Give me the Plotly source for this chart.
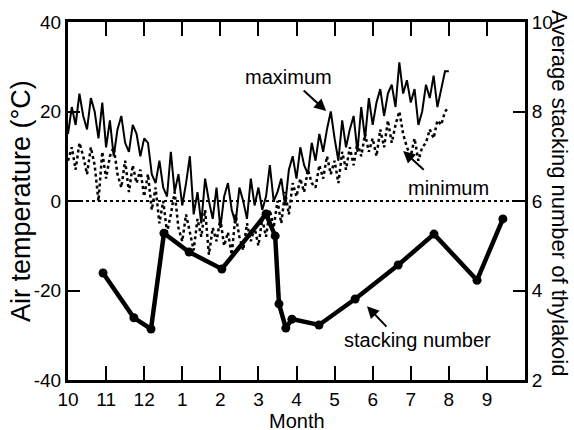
import plotly.graph_objects as go

# x positions in months since Oct 1 (0 = Oct, 12 = next Oct)
temp_x = [round(i * 0.1, 2) for i in range(101)]

max_temp = [15, 21, 17, 24, 19, 16, 23, 20, 14, 22,
            12, 18, 10, 16, 19, 13, 11, 17, 15, 10,
            14, 13, 6, 4, 9, 3, 1, 11, 2, 6,
            -1, 4, 10, -3, 2, -5, 5, 0, -4, 3,
            -6, 1, 4, -2, -5, 3, 0, -4, 5, -1,
            3, -2, 1, 8, 0, 2, 5, -1, 7, 10,
            5, 12, 8, 6, 13, 9, 15, 11, 16, 20,
            14, 9, 18, 12, 16, 19, 11, 21, 14, 23,
            17, 22, 25, 19, 24, 26, 21, 31, 24, 27,
            22, 25, 17, 20, 26, 23, 28, 21, 25, 29,
            29]

min_temp = [9, 12, 7, 13, 10, 6, 12, 8, 0, 11,
            5, 10, 12, 6, 3, 9, 2, 8, 4, 7,
            1, 6, -2, 3, -5, 0, -7, -3, 2, -6,
            -9, -3, -7, -11, -4, -8, -2, -12, -6, -9,
            -4, -10, -7, -12, -3, -8, -11, -5, -9, -6,
            -10, -4, -8, -2, -6, 0, -5, 2, -3, 4,
            1, 5, 2, 7, 4, 3, 8, 5, 10, 6,
            9, 4, 11, 7, 12, 8, 13, 10, 15, 11,
            14, 10, 16, 12, 18, 13, 17, 20, 15, 12,
            10, 14, 9, 12, 13, 16, 14, 18, 17, 20,
            21]

stack_x = [0.92, 1.73, 2.18, 2.52, 3.18, 4.04, 5.2, 5.44, 5.54, 5.72, 5.88,
           6.59, 7.54, 8.67, 9.61, 10.74, 11.42]
stack_y = [4.39, 3.39, 3.14, 5.28, 4.86, 4.48, 5.71, 5.22, 3.70, 3.16, 3.36,
           3.23, 3.81, 4.57, 5.26, 4.23, 5.60]

month_ticks = [0, 1, 2, 3, 4, 5, 6, 7, 8, 9, 10, 11]
month_labels = ["10", "11", "12", "1", "2", "3", "4", "5", "6", "7", "8", "9"]
temp_ticks = [-40, -20, 0, 20, 40]
temp_labels = ["-40", "-20", "0", "20", "40"]
stack_ticks = [2, 4, 6, 8, 10]

FONT = "Liberation Sans, Arial, Helvetica, sans-serif"

fig = go.Figure()
fig.add_trace(go.Scatter(x=[0, 12], y=[0, 0], mode="lines",
                         line=dict(color="black", width=2, dash="dot"),
                         showlegend=False, hoverinfo="skip"))
fig.add_trace(go.Scatter(x=temp_x, y=min_temp, mode="lines",
                         line=dict(color="black", width=2.5, dash="dot"),
                         showlegend=False))
fig.add_trace(go.Scatter(x=temp_x, y=max_temp, mode="lines",
                         line=dict(color="black", width=2),
                         showlegend=False))
fig.add_trace(go.Scatter(x=stack_x, y=stack_y, mode="lines+markers", yaxis="y2",
                         line=dict(color="black", width=4.5),
                         marker=dict(color="black", size=9),
                         showlegend=False))

fig.update_layout(
    width=574, height=430,
    margin=dict(l=68, r=49, t=22, b=50),
    plot_bgcolor="white", paper_bgcolor="white",
    font=dict(family=FONT, size=19, color="black"),
    xaxis=dict(range=[0, 12], tickvals=month_ticks, ticktext=month_labels,
               ticks="inside", ticklen=14, tickwidth=2, tickcolor="black",
               showline=True, linewidth=3, linecolor="black", mirror="ticks",
               showgrid=False, zeroline=False, tickfont=dict(size=19)),
    yaxis=dict(range=[-40, 40], tickvals=temp_ticks, ticktext=temp_labels,
               ticks="inside", ticklen=12, tickwidth=2, tickcolor="black",
               showline=True, linewidth=3, linecolor="black",
               showgrid=False, zeroline=False, tickfont=dict(size=19)),
    yaxis2=dict(range=[2, 10], tickvals=stack_ticks, overlaying="y", side="right",
                ticks="inside", ticklen=12, tickwidth=2, tickcolor="black",
                showline=True, linewidth=3, linecolor="black",
                showgrid=False, zeroline=False, tickfont=dict(size=19)),
)

ann_font = dict(family=FONT, size=20, color="black")
fig.add_annotation(x=5.79, y=27.7, text="maximum", showarrow=False, font=ann_font)
fig.add_annotation(x=10.0, y=2.9, text="minimum", showarrow=False, font=ann_font)
fig.add_annotation(x=9.17, y=-31, text="stacking number", showarrow=False, font=ann_font)

arrows = [((6.78, 20.1), (6.15, 25.0)),
          ((8.80, 11.2), (9.38, 6.7)),
          ((7.85, -23.5), (8.40, -28.4))]
for (hx, hy), (tx, ty) in arrows:
    fig.add_annotation(x=hx, y=hy, ax=tx, ay=ty, xref="x", yref="y", axref="x", ayref="y",
                       text="", showarrow=True, arrowhead=2, arrowsize=1.2,
                       arrowwidth=2, arrowcolor="black")

fig.add_annotation(xref="paper", yref="paper", x=0, y=0.5, xanchor="center", yanchor="middle",
                   xshift=-47, text="Air temperature (°C)", textangle=-90, showarrow=False,
                   font=dict(family=FONT, size=27, color="black"))
fig.add_annotation(xref="paper", yref="paper", x=1, y=0.5, xanchor="center", yanchor="middle",
                   xshift=35, yshift=8, text="Average stacking number of thylakoid", textangle=90,
                   showarrow=False, font=dict(family=FONT, size=22, color="black"))
fig.add_annotation(xref="paper", yref="paper", x=0.5, y=0, xanchor="center", yanchor="top",
                   yshift=-28, text="Month", showarrow=False,
                   font=dict(family=FONT, size=20, color="black"))

fig.write_html("out.html")
